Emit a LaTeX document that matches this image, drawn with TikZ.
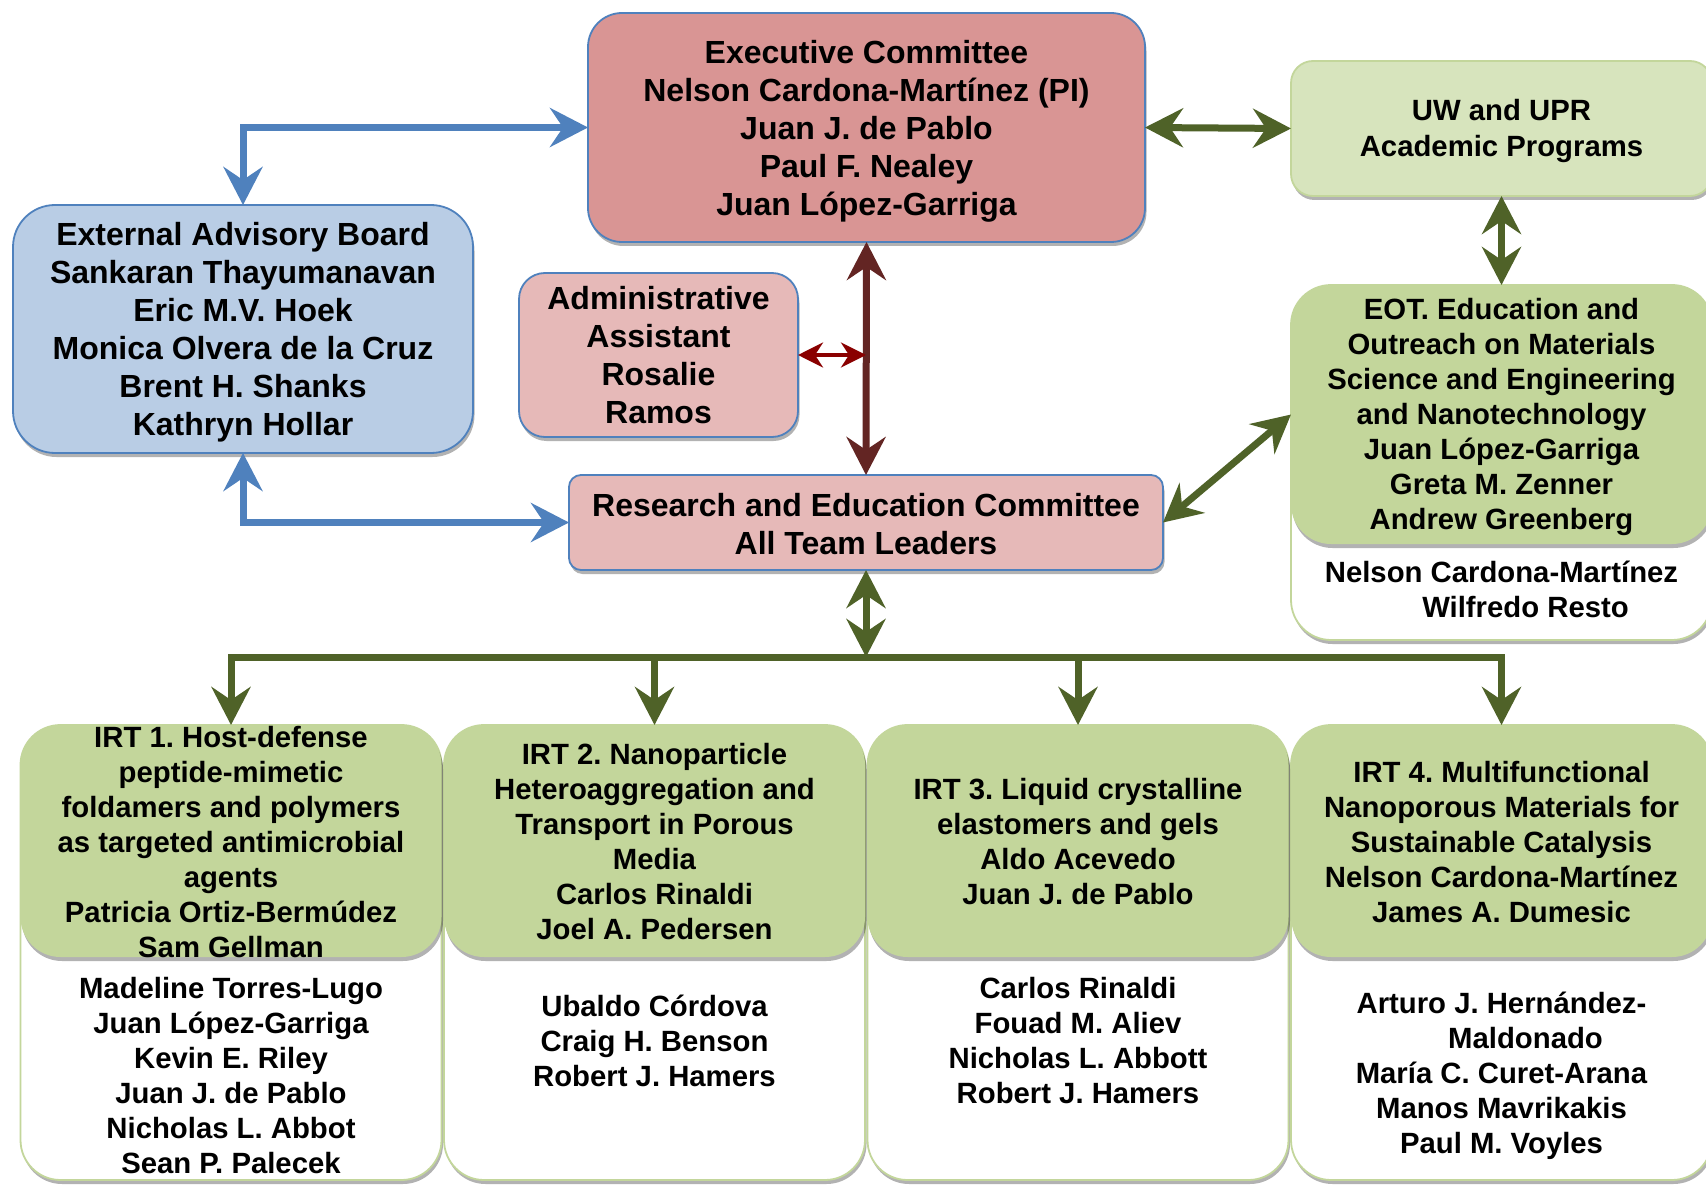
\documentclass[tikz,border=0pt]{standalone}
\usepackage{fontspec}
\setmainfont{Liberation Sans}
\usetikzlibrary{arrows.meta,shadows}
\definecolor{execfill}{HTML}{D99594}
\definecolor{pinkfill}{HTML}{E6B9B8}
\definecolor{bluefill}{HTML}{B9CDE5}
\definecolor{bordblue}{HTML}{4F81BD}
\definecolor{uwfill}{HTML}{D7E4BD}
\definecolor{grfill}{HTML}{C3D69B}
\definecolor{grbord}{HTML}{C3D69B}
\definecolor{arrblue}{HTML}{4F81BD}
\definecolor{arrgreen}{HTML}{4F6228}
\definecolor{arrdred}{HTML}{632523}
\definecolor{arrred}{HTML}{8A0000}
\frenchspacing
\begin{document}
\begin{tikzpicture}[x=1pt,y=-1pt,
  sh/.style={drop shadow={shadow xshift=1.5pt,shadow yshift=-4pt,opacity=0.3,fill=black}},
  shape box/.style={rectangle,inner sep=0pt,outer sep=0pt,line width=1.8pt},
  bigtxt/.style={align=center,inner sep=0pt,font=\fontsize{32}{38}\selectfont\bfseries\frenchspacing},
  smtxt/.style={align=center,inner sep=0pt,font=\fontsize{29.3}{35}\selectfont\bfseries\frenchspacing},
  bluearr/.style={draw=arrblue,line width=7pt,{Stealth[length=38pt,width=39pt,inset=13pt]}-{Stealth[length=38pt,width=39pt,inset=13pt]}},
  greenarr/.style={draw=arrgreen,line width=7pt,{Stealth[length=38pt,width=39pt,inset=13pt]}-{Stealth[length=38pt,width=39pt,inset=13pt]}},
  greenline/.style={draw=arrgreen,line width=7pt},
  dredarr/.style={draw=arrdred,line width=7pt,{Stealth[length=38pt,width=39pt,inset=13pt]}-{Stealth[length=38pt,width=39pt,inset=13pt]}},
  redarr/.style={draw=arrred,line width=4pt,{Stealth[length=25pt,width=25pt,inset=8pt]}-{Stealth[length=25pt,width=25pt,inset=8pt]}}
]
\useasboundingbox (0,0) rectangle (1706,1185);
\fill[white] (0,0) rectangle (1706,1185);

% ---- top boxes ----
\node[shape box,sh,draw=bordblue,fill=execfill,rounded corners=34pt,minimum width=557pt,minimum height=229pt] (exec) at (866.5,127.5) {};
\node[bigtxt] (exect) at (866.5,131) {Executive Committee\\Nelson Cardona-Martínez (PI)\\Juan J. de Pablo\\Paul F. Nealey\\Juan López-Garriga};

\node[shape box,sh,draw=grbord,fill=uwfill,rounded corners=22pt,minimum width=421pt,minimum height=135pt] (uw) at (1501.5,128.5) {};
\node[smtxt,font=\fontsize{29.3}{36}\selectfont\bfseries] (uwt) at (1501.5,131) {UW and UPR\\Academic Programs};

\node[shape box,sh,draw=bordblue,fill=bluefill,rounded corners=42pt,minimum width=460pt,minimum height=248pt] (eab) at (243,329) {};
\node[bigtxt] (eabt) at (243,332) {External Advisory Board\\Sankaran Thayumanavan\\Eric M.V. Hoek\\Monica Olvera de la Cruz\\Brent H. Shanks\\Kathryn Hollar};

\node[shape box,sh,draw=bordblue,fill=pinkfill,rounded corners=26pt,minimum width=279pt,minimum height=164pt] (adm) at (658.5,355) {};
\node[bigtxt] (admt) at (658.5,355) {Administrative\\Assistant\\Rosalie\\Ramos};

\node[shape box,sh,draw=bordblue,fill=pinkfill,rounded corners=12pt,minimum width=594pt,minimum height=95pt] (re) at (866,522.5) {};
\node[bigtxt] (ret) at (866,524) {Research and Education Committee\\All Team Leaders};

% ---- EOT ----
\node[shape box,sh,draw=grbord,fill=white,rounded corners=40pt,minimum width=421pt,minimum height=355pt] (eotw) at (1501.5,462.5) {};
\node[shape box,sh,fill=grfill,rounded corners=40pt,minimum width=421pt,minimum height=259pt] (eot) at (1501.5,414.5) {};
\node[smtxt] (eott) at (1501.5,417) {EOT. Education and\\Outreach on Materials\\Science and Engineering\\and Nanotechnology\\Juan López-Garriga\\Greta M. Zenner\\Andrew Greenberg};
\node[smtxt] (eotl) at (1501.5,589) {Nelson Cardona-Martínez\\\hspace*{48pt}Wilfredo Resto};

% ---- IRT columns ----
\node[shape box,sh,draw=grbord,fill=white,rounded corners=40pt,minimum width=421pt,minimum height=455pt] (w1) at (231,952.5) {};
\node[shape box,sh,draw=grbord,fill=white,rounded corners=40pt,minimum width=421pt,minimum height=455pt] (w2) at (654.5,952.5) {};
\node[shape box,sh,draw=grbord,fill=white,rounded corners=40pt,minimum width=421pt,minimum height=455pt] (w3) at (1078,952.5) {};
\node[shape box,sh,draw=grbord,fill=white,rounded corners=40pt,minimum width=421pt,minimum height=455pt] (w4) at (1501.5,952.5) {};

\node[shape box,sh,fill=grfill,rounded corners=40pt,minimum width=421pt,minimum height=232pt] (irt1) at (231,841) {};
\node[shape box,sh,fill=grfill,rounded corners=40pt,minimum width=421pt,minimum height=232pt] (irt2) at (654.5,841) {};
\node[shape box,sh,fill=grfill,rounded corners=40pt,minimum width=421pt,minimum height=232pt] (irt3) at (1078,841) {};
\node[shape box,sh,fill=grfill,rounded corners=40pt,minimum width=421pt,minimum height=232pt] (irt4) at (1501.5,841) {};

\node[smtxt] (t1) at (231,842) {IRT 1. Host-defense\\peptide-mimetic\\foldamers and polymers\\as targeted antimicrobial\\agents\\Patricia Ortiz-Bermúdez\\Sam Gellman};
\node[smtxt] (t2) at (654.5,842) {IRT 2. Nanoparticle\\Heteroaggregation and\\Transport in Porous\\Media\\Carlos Rinaldi\\Joel A. Pedersen};
\node[smtxt] (t3) at (1078,842) {IRT 3. Liquid crystalline\\elastomers and gels\\Aldo Acevedo\\Juan J. de Pablo};
\node[smtxt] (t4) at (1501.5,842) {IRT 4. Multifunctional\\Nanoporous Materials for\\Sustainable Catalysis\\Nelson Cardona-Martínez\\James A. Dumesic};

\node[smtxt] (l1) at (231,1076) {Madeline Torres-Lugo\\Juan López-Garriga\\Kevin E. Riley\\Juan J. de Pablo\\Nicholas L. Abbot\\Sean P. Palecek};
\node[smtxt] (l2) at (654.5,1041) {Ubaldo Córdova\\Craig H. Benson\\Robert J. Hamers};
\node[smtxt] (l3) at (1078,1041) {Carlos Rinaldi\\Fouad M. Aliev\\Nicholas L. Abbott\\Robert J. Hamers};
\node[smtxt] (l4) at (1501.5,1076) {Arturo J. Hernández-\\\hspace*{48pt}Maldonado\\María C. Curet-Arana\\Manos Mavrikakis\\Paul M. Voyles};

% ---- connectors ----
\draw[bluearr] (eab.north) |- (exec.west);
\draw[bluearr] (eab.south) |- (re.west);
\draw[greenarr] (exec.east) -- (uw.west);
\draw[greenarr] (uw.south) -- (eot.north);
\draw[greenarr] (re.east) -- (eot.west);
\draw[dredarr] (exec.south) -- (re.north);
\coordinate (junc) at (866,355);
\draw[redarr] (adm.east) -- (junc);
\coordinate (bus) at (866,657);
\coordinate (b2) at (654.5,657);
\coordinate (b3) at (1078,657);
\draw[greenline,{Stealth[length=38pt,width=39pt,inset=13pt]}-{Stealth[length=38pt,width=39pt,inset=13pt]}] (irt1.north) |- (bus) -| (irt4.north);
\draw[greenline,-{Stealth[length=38pt,width=39pt,inset=13pt]}] (b2) -- (irt2.north);
\draw[greenline,-{Stealth[length=38pt,width=39pt,inset=13pt]}] (b3) -- (irt3.north);
\draw[greenarr] (re.south) -- (bus);
\end{tikzpicture}
\end{document}
